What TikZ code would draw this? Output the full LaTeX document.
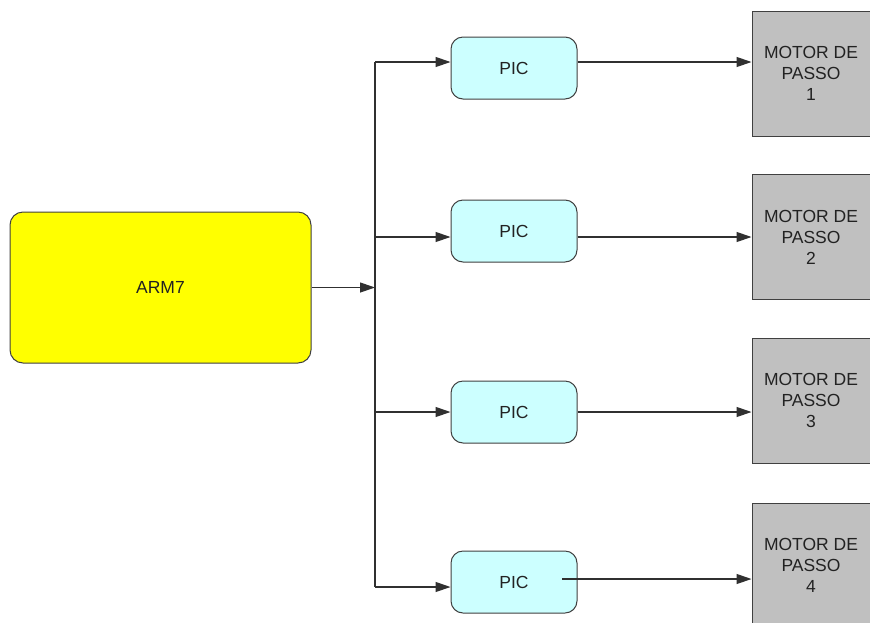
\documentclass[tikz,border=0pt]{standalone}
\usepackage{fontspec}
\setmainfont{Liberation Sans}
\usetikzlibrary{arrows.meta,calc}
\definecolor{armyellow}{HTML}{FFFF00}
\definecolor{piccyan}{HTML}{CCFFFF}
\definecolor{motorgray}{HTML}{C0C0C0}
\definecolor{edgegray}{HTML}{404040}
\definecolor{linegray}{HTML}{303030}
\definecolor{textdark}{HTML}{222222}
\tikzset{
  armbox/.style={draw=edgegray, line width=1pt, fill=armyellow, rounded corners=13pt,
    minimum width=301pt, minimum height=151pt, inner sep=0pt},
  picbox/.style={draw=edgegray, line width=1pt, fill=piccyan, rounded corners=12pt,
    minimum width=126pt, minimum height=62pt, inner sep=0pt},
  motorbox/.style={draw=edgegray, line width=1pt, fill=motorgray,
    minimum width=118pt, minimum height=125pt, inner sep=0pt, align=center},
  wire/.style={draw=linegray, line width=1.2pt},
  arr/.style={wire, -{Triangle[length=15pt,width=10pt]}},
  lbl/.style={text=textdark, font=\fontsize{17.5pt}{21pt}\selectfont}
}
\begin{document}
\begin{tikzpicture}[x=1pt,y=-1pt]
\useasboundingbox (0,0) rectangle (870,622);
% nodes
\node[armbox, lbl] (arm) at (160.5,287.5) {ARM7};
\node[picbox, lbl] (pic1) at (514,68) {PIC};
\node[picbox, lbl] (pic2) at (514,231) {PIC};
\node[picbox, lbl] (pic3) at (514,412) {PIC};
\node[picbox, lbl] (pic4) at (514,582) {PIC};
\node[motorbox, lbl] (m1) at (811,73.5) {MOTOR DE\\PASSO\\1};
\node[motorbox, lbl] (m2) at (811,237) {MOTOR DE\\PASSO\\2};
\node[motorbox, lbl] (m3) at (811,400.5) {MOTOR DE\\PASSO\\3};
\node[motorbox, lbl] (m4) at (811,565.5) {MOTOR DE\\PASSO\\4};
% bus coordinates
\coordinate (b1) at (375,62);
\coordinate (b2) at (375,237);
\coordinate (b3) at (375,412);
\coordinate (b4) at (375,587);
\coordinate (o4) at (562,579);
% bus
\draw[wire] (b1) -- (b4);
\draw[arr] (arm.east) -- (arm.east -| b1);
% branches to PICs
\draw[arr] (b1) -- (b1 -| pic1.west);
\draw[arr] (b2) -- (b2 -| pic2.west);
\draw[arr] (b3) -- (b3 -| pic3.west);
\draw[arr] (b4) -- (b4 -| pic4.west);
% PICs to motors
\draw[arr] (b1 -| pic1.east) -- (b1 -| m1.west);
\draw[arr] (b2 -| pic2.east) -- (b2 -| m2.west);
\draw[arr] (b3 -| pic3.east) -- (b3 -| m3.west);
\draw[arr] (o4) -- (o4 -| m4.west);
\end{tikzpicture}
\end{document}
